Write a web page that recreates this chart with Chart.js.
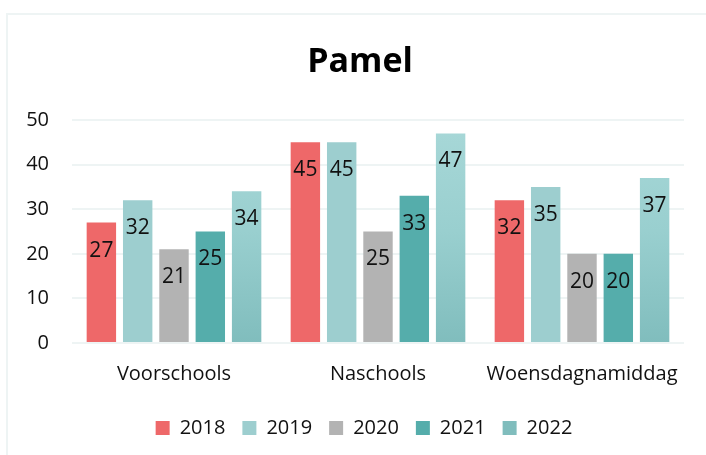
<!DOCTYPE html>
<html>
<head>
<meta charset="utf-8">
<script src="https://cdn.jsdelivr.net/npm/chart.js@4/dist/chart.umd.min.js"></script>
<style>
  html, body { margin: 0; padding: 0; background: #ffffff; }
  #wrap { width: 706px; height: 455px; position: relative; }
</style>
</head>
<body>
<div id="wrap"><canvas id="c" width="706" height="455"></canvas></div>
<script>
const titleText = 'Pamel';
const categories = ['Voorschools', 'Naschools', 'Woensdagnamiddag'];
const seriesNames = ['2018', '2019', '2020', '2021', '2022'];
const values2018 = [27, 45, 32];
const values2019 = [32, 45, 35];
const values2020 = [21, 25, 20];
const values2021 = [25, 33, 20];
const values2022 = [34, 47, 37];
const yTicks = [0, 10, 20, 30, 40, 50];

const FONT = '"Open Sans", "Noto Sans", sans-serif';

function gradient2022(ctx) {
  const chart = ctx.chart;
  const area = chart.chartArea;
  if (!area) return '#9fd2d2';
  const g = chart.ctx.createLinearGradient(0, area.top, 0, area.bottom);
  g.addColorStop(0, '#a8d8d8');
  g.addColorStop(0.5, '#99cfcf');
  g.addColorStop(1, '#80bdbd');
  return g;
}

const frame = {
  id: 'frame',
  beforeDraw(chart) {
    const c = chart.ctx;
    c.save();
    c.fillStyle = '#ffffff';
    c.fillRect(0, 0, chart.width, chart.height);
    c.strokeStyle = '#eef4f4';
    c.lineWidth = 2;
    c.beginPath();
    c.moveTo(7, chart.height + 5);
    c.lineTo(7, 14);
    c.lineTo(chart.width + 5, 14);
    c.stroke();
    c.restore();
  }
};

// shift title and legend horizontally (they are centred on the whole chart in the original)
const shiftBoxes = {
  id: 'shiftBoxes',
  afterInit(chart) {
    const wrap = (box, dx) => {
      if (!box) return;
      const orig = box.draw.bind(box);
      box.draw = function (area) {
        const c = chart.ctx;
        c.save();
        c.translate(dx, 0);
        orig(area);
        c.restore();
      };
    };
    wrap(chart.titleBlock, 18);
    wrap(chart.legend, 22);
  }
};

const dataLabels = {
  id: 'dataLabels',
  afterDatasetsDraw(chart) {
    const c = chart.ctx;
    c.save();
    c.font = '21px ' + FONT;
    c.fillStyle = '#111111';
    c.textAlign = 'center';
    c.textBaseline = 'middle';
    chart.data.datasets.forEach((ds, i) => {
      const meta = chart.getDatasetMeta(i);
      meta.data.forEach((bar, j) => {
        c.fillText(String(ds.data[j]), bar.x, bar.y + 28);
      });
    });
    c.restore();
  }
};

new Chart(document.getElementById('c'), {
  type: 'bar',
  data: {
    labels: categories,
    datasets: [
      { label: seriesNames[0], data: values2018, backgroundColor: '#ee6869' },
      { label: seriesNames[1], data: values2019, backgroundColor: '#9dcecf' },
      { label: seriesNames[2], data: values2020, backgroundColor: '#b3b3b3' },
      { label: seriesNames[3], data: values2021, backgroundColor: '#55adab' },
      { label: seriesNames[4], data: values2022, backgroundColor: gradient2022 }
    ]
  },
  options: {
    responsive: false,
    animation: false,
    devicePixelRatio: 1,
    layout: { padding: { top: 0, left: 0, right: 22, bottom: 7 } },
    datasets: {
      bar: { categoryPercentage: 0.89, barPercentage: 0.81 }
    },
    scales: {
      x: {
        grid: { display: false, drawTicks: false },
        border: { display: false },
        ticks: { color: '#111111', font: { family: FONT, size: 20 }, padding: 19, maxRotation: 0 },
        afterFit(scale) { scale.height = 58; }
      },
      y: {
        min: 0, max: 50,
        afterBuildTicks(scale) { scale.ticks = yTicks.map(v => ({ value: v })); },
        grid: { color: '#eef4f4', lineWidth: 2, drawTicks: false },
        border: { display: false },
        ticks: { color: '#111111', font: { family: FONT, size: 20 }, padding: 23 },
        afterFit(scale) { scale.width = 72; }
      }
    },
    plugins: {
      title: {
        display: true,
        text: titleText,
        color: '#000000',
        font: { family: FONT, size: 34, weight: 'bold', lineHeight: 1.2 },
        padding: { top: 41.6, bottom: 37.6 }
      },
      legend: {
        position: 'bottom',
        labels: {
          color: '#111111',
          font: { family: FONT, size: 20 },
          boxWidth: 14,
          boxHeight: 14,
          padding: 17
        }
      },
      tooltip: { enabled: false }
    }
  },
  plugins: [frame, shiftBoxes, dataLabels]
});
</script>
</body>
</html>
